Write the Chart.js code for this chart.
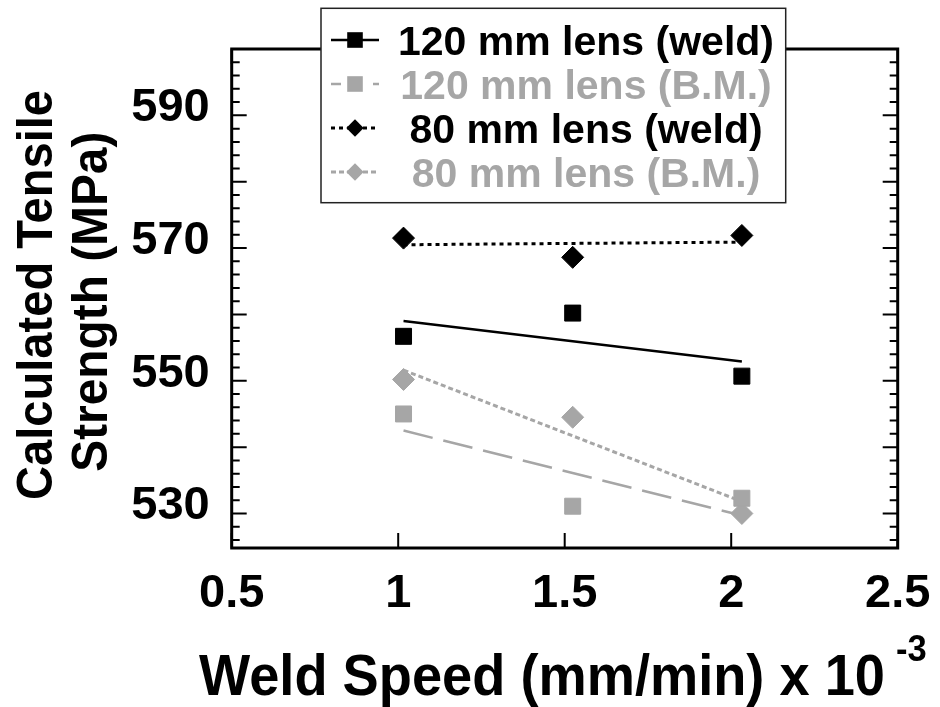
<!DOCTYPE html>
<html>
<head>
<meta charset="utf-8">
<script src="https://cdn.jsdelivr.net/npm/chart.js@4/dist/chart.umd.min.js"></script>
<style>
  html, body { margin: 0; padding: 0; background: #fff; }
  canvas { display: block; }
</style>
</head>
<body>
<canvas id="tensileChart" width="940" height="707"></canvas>
<script>
// weld speed in (mm/min) x 10^-3
const speeds = [1.016, 1.524, 2.032];

// measured tensile strength (MPa)
const weld120 = [556.7, 560.2, 550.7];
const bm120 = [545.0, 531.1, 532.3];
const weld80 = [571.5, 568.6, 571.9];
const bm80 = [550.2, 544.5, 530.0];

// trend line end points
const fitX = [1.016, 2.032];
const weld120Fit = [559.0, 552.9];
const bm120Fit = [542.5, 529.7];
const weld80Fit = [570.5, 570.9];
const bm80Fit = [551.6, 531.8];

const seriesNames = ["120 mm lens (weld)", "120 mm lens (B.M.)", "80 mm lens (weld)", "80 mm lens (B.M.)"];

// axis ticks
const xTickValues = [0.5, 1, 1.5, 2, 2.5];
const xTickLabels = ["0.5", "1", "1.5", "2", "2.5"];
const yTickValues = [530, 550, 570, 590];
const yMinorStep = 2;
const yMajorStep = 10;

const BLACK = "#000000";
const GRAY = "#a6a6a6";
const FONT = "'Liberation Sans', Arial, Helvetica, sans-serif";

function pts(xs, ys) {
    return xs.map((x, i) => ({ x: x, y: ys[i] }));
}

// line styles, used by the fit lines and the legend samples
const legendStyle = [
    { color: BLACK, dash: [], width: 2.5, marker: "square" },
    { color: GRAY, dash: [30, 11], width: 2.5, marker: "square" },
    { color: BLACK, dash: [4, 4], width: 3, marker: "diamond" },
    { color: GRAY, dash: [5, 3], width: 3, marker: "diamond" }
];

function drawMarker(ctx, kind, x, y, half, color) {
    ctx.fillStyle = color;
    ctx.beginPath();
    if (kind === "square") {
        ctx.rect(x - half, y - half, half * 2, half * 2);
    } else {
        ctx.moveTo(x - half, y);
        ctx.lineTo(x, y - half);
        ctx.lineTo(x + half, y);
        ctx.lineTo(x, y + half);
        ctx.closePath();
    }
    ctx.fill();
}

// frame with inward ticks
const frameTicks = {
    id: "frameTicks",
    beforeDatasetsDraw(chart) {
        const ctx = chart.ctx;
        const a = chart.chartArea;
        const y = chart.scales.y;
        const x = chart.scales.x;
        ctx.save();
        ctx.strokeStyle = BLACK;
        ctx.lineWidth = 2;
        ctx.beginPath();
        for (let v = y.min - (y.min % yMinorStep) + yMinorStep; v < y.max; v += yMinorStep) {
            const py = y.getPixelForValue(v);
            const len = (Math.round(v) % yMajorStep === 0) ? 15 : 8;
            ctx.moveTo(a.left, py);
            ctx.lineTo(a.left + len, py);
            ctx.moveTo(a.right, py);
            ctx.lineTo(a.right - len, py);
        }
        xTickValues.forEach(v => {
            const px = x.getPixelForValue(v);
            ctx.moveTo(px, a.bottom);
            ctx.lineTo(px, a.bottom - 15);
            ctx.moveTo(px, a.top);
            ctx.lineTo(px, a.top + 15);
        });
        ctx.stroke();
        ctx.lineWidth = 3;
        ctx.strokeRect(a.left, a.top, a.right - a.left, a.bottom - a.top);
        ctx.restore();
    }
};

// axis titles and legend box
const titlesAndLegend = {
    id: "titlesAndLegend",
    afterDraw(chart) {
        const ctx = chart.ctx;
        ctx.save();
        ctx.fillStyle = BLACK;
        ctx.textBaseline = "alphabetic";

        // x title, squeezed to the width seen in the figure
        ctx.font = "bold 58px " + FONT;
        ctx.textAlign = "left";
        const xt = "Weld Speed (mm/min) x 10";
        const xs = 686 / ctx.measureText(xt).width;
        ctx.save();
        ctx.translate(199, 695);
        ctx.scale(xs, 1);
        ctx.fillText(xt, 0, 0);
        ctx.restore();
        ctx.font = "bold 37px " + FONT;
        ctx.save();
        ctx.translate(896, 661);
        ctx.scale(xs, 1);
        ctx.fillText("-3", 0, 0);
        ctx.restore();

        // y title, two lines
        const yLines = [
            { text: "Calculated Tensile", base: 51.7, cy: 295, len: 410 },
            { text: "Strength (MPa)", base: 106.7, cy: 301.7, len: 340 }
        ];
        ctx.font = "bold 50px " + FONT;
        ctx.textAlign = "center";
        yLines.forEach(l => {
            const s = l.len / ctx.measureText(l.text).width;
            ctx.save();
            ctx.translate(l.base, l.cy);
            ctx.rotate(-Math.PI / 2);
            ctx.scale(s, 1);
            ctx.fillText(l.text, 0, 0);
            ctx.restore();
        });

        // legend
        const box = { left: 321, top: 8.3, right: 785.7, bottom: 202.7 };
        ctx.fillStyle = "#ffffff";
        ctx.fillRect(box.left, box.top, box.right - box.left, box.bottom - box.top);
        ctx.strokeStyle = "#222222";
        ctx.lineWidth = 1.5;
        ctx.strokeRect(box.left, box.top, box.right - box.left, box.bottom - box.top);

        ctx.font = "bold 41px " + FONT;
        ctx.textAlign = "center";
        seriesNames.forEach((name, i) => {
            const st = legendStyle[i];
            const base = 55 + i * 44;
            const mid = base - 15;
            ctx.strokeStyle = st.color;
            ctx.lineWidth = st.width;
            ctx.setLineDash(st.dash.length ? [Math.min(st.dash[0], 10), st.dash[1]] : []);
            ctx.beginPath();
            ctx.moveTo(331, mid);
            ctx.lineTo(379, mid);
            ctx.stroke();
            ctx.setLineDash([]);
            drawMarker(ctx, st.marker, 355, mid, st.marker === "square" ? 7.8 : 8.7, st.color);
            ctx.fillStyle = st.color;
            ctx.fillText(name, 586, base);
        });
        ctx.restore();
    }
};

function pointSet(label, ys, color, style, radius) {
    return {
        label: label,
        data: pts(speeds, ys),
        showLine: false,
        pointStyle: style,
        pointRadius: radius,
        pointBackgroundColor: color,
        pointBorderColor: color,
        pointBorderWidth: 1,
        order: 0
    };
}

function fitSet(ys, i) {
    const st = legendStyle[i];
    return {
        label: seriesNames[i] + " fit",
        data: pts(fitX, ys),
        showLine: true,
        borderColor: st.color,
        borderWidth: st.width,
        borderDash: st.dash,
        pointRadius: 0,
        order: 1
    };
}

const ctx = document.getElementById("tensileChart").getContext("2d");

new Chart(ctx, {
    type: "scatter",
    data: {
        datasets: [
            pointSet(seriesNames[0], weld120, BLACK, "rect", 11.3),
            pointSet(seriesNames[1], bm120, GRAY, "rect", 11.3),
            pointSet(seriesNames[2], weld80, BLACK, "rectRot", 11),
            pointSet(seriesNames[3], bm80, GRAY, "rectRot", 11),
            fitSet(weld120Fit, 0),
            fitSet(bm120Fit, 1),
            fitSet(weld80Fit, 2),
            fitSet(bm80Fit, 3)
        ]
    },
    options: {
        responsive: false,
        animation: false,
        devicePixelRatio: 1,
        layout: { padding: { left: 0, right: 42.3, top: 49, bottom: 0 } },
        plugins: {
            legend: { display: false },
            tooltip: { enabled: false },
            title: { display: false }
        },
        scales: {
            x: {
                type: "linear",
                min: 0.5,
                max: 2.5,
                grid: { display: false, drawTicks: false },
                border: { display: false },
                afterBuildTicks: function(scale) {
                    scale.ticks = xTickValues.map(v => ({ value: v }));
                },
                afterFit: function(scale) {
                    scale.height = 159;
                    scale.paddingLeft = 0;
                    scale.paddingRight = 0;
                },
                ticks: {
                    autoSkip: false,
                    maxRotation: 0,
                    minRotation: 0,
                    padding: 23,
                    color: BLACK,
                    font: { family: FONT, size: 47, weight: "bold", lineHeight: 1 },
                    callback: function(value) {
                        const i = xTickValues.indexOf(value);
                        return i >= 0 ? xTickLabels[i] : "";
                    }
                }
            },
            y: {
                type: "linear",
                min: 524.8,
                max: 600,
                grid: { display: false, drawTicks: false },
                border: { display: false },
                afterBuildTicks: function(scale) {
                    scale.ticks = yTickValues.map(v => ({ value: v }));
                },
                afterFit: function(scale) {
                    scale.width = 231.7;
                    scale.paddingTop = 0;
                    scale.paddingBottom = 0;
                },
                ticks: {
                    autoSkip: false,
                    padding: 22,
                    labelOffset: -7,
                    color: BLACK,
                    font: { family: FONT, size: 47, weight: "bold", lineHeight: 1 },
                    callback: function(value) {
                        return String(value);
                    }
                }
            }
        }
    },
    plugins: [frameTicks, titlesAndLegend]
});
</script>
</body>
</html>
